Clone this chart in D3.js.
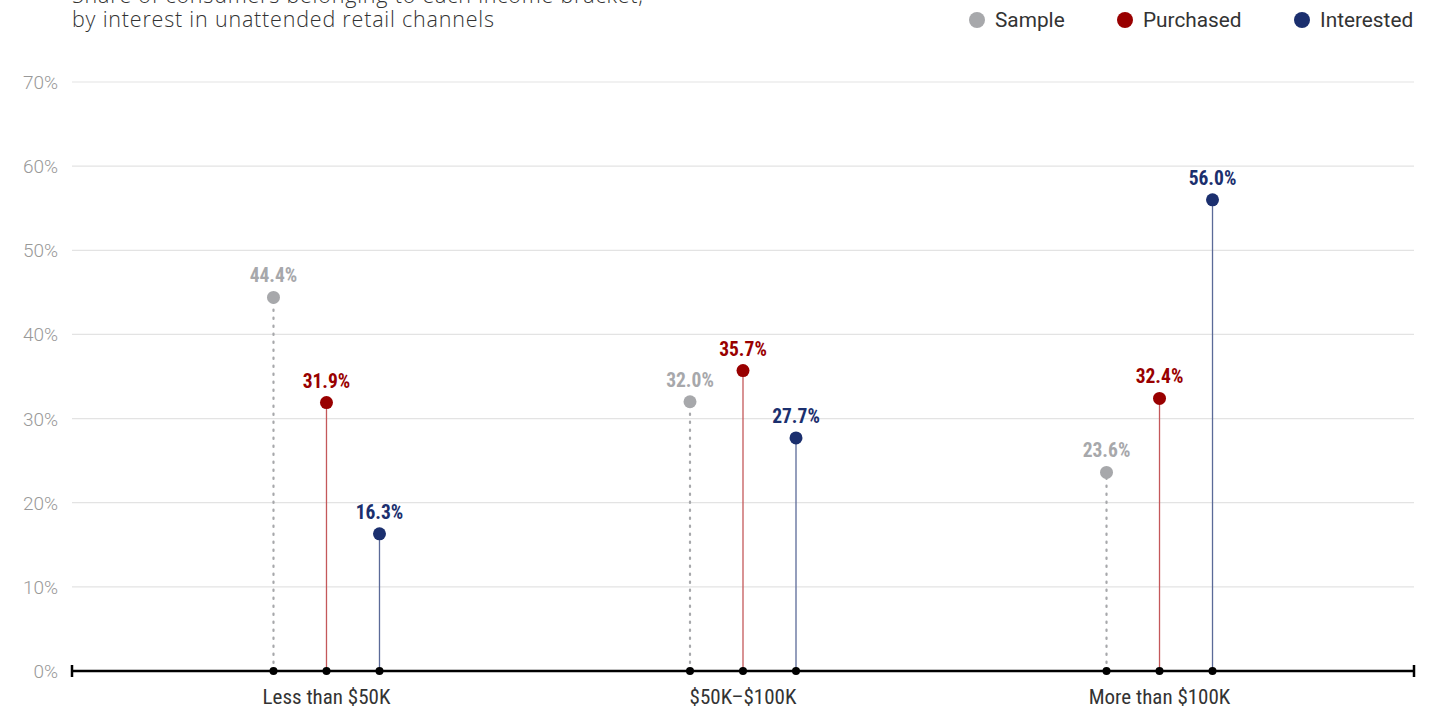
<!DOCTYPE html>
<html><head><meta charset="utf-8">
<script src="https://cdn.jsdelivr.net/npm/d3@7"></script>
<style>
html,body{margin:0;padding:0;background:#fff;}
svg{display:block;}
</style></head>
<body>
<svg id="chart" width="1444" height="710"></svg>
<script>
const titleLines = ["Share of consumers belonging to each income bracket,", "by interest in unattended retail channels"];
const categories = ["Less than $50K", "$50K\u2013$100K", "More than $100K"];
const seriesNames = ["Sample", "Purchased", "Interested"];
const sampleValues = [44.4, 32.0, 23.6];
const purchasedValues = [31.9, 35.7, 32.4];
const interestedValues = [16.3, 27.7, 56.0];
const yTicks = [0, 10, 20, 30, 40, 50, 60, 70];

const colors = {Sample: "#a7a8ab", Purchased: "#990000", Interested: "#1b2f6e"};
const stemColors = {Sample: "#a7a8ab", Purchased: "#c4585a", Interested: "#5b6a98"};
const seriesData = {Sample: sampleValues, Purchased: purchasedValues, Interested: interestedValues};

const svg = d3.select("#chart");
const mLeft = 72, mRight = 1414, mTop = 82, mBottom = 671;

const y = d3.scaleLinear().domain([0, 70]).range([mBottom, mTop]);
const x = d3.scalePoint().domain(categories).range([mLeft, mRight]).padding(0.611);
const offset = d3.scalePoint().domain(seriesNames).range([-53, 53]);

// title
svg.append("g").selectAll("text").data(titleLines).join("text")
  .attr("x", 72).attr("y", (d, i) => 3 + i * 24)
  .attr("font-family", "'Open Sans', Lato, sans-serif").attr("font-weight", 300)
  .attr("font-size", 21.5).attr("letter-spacing", 0.8).attr("fill", "#333").text(d => d);

// legend
const legendX = [977, 1125, 1302];
const lg = svg.append("g").selectAll("g").data(seriesNames).join("g")
  .attr("transform", (d, i) => `translate(${legendX[i]},20)`);
lg.append("circle").attr("r", 8).attr("fill", d => colors[d]);
lg.append("text").attr("x", 18).attr("y", 7).attr("font-family", "Roboto, sans-serif")
  .attr("font-size", 20.8).attr("fill", "#333").text(d => d);

// grid
svg.append("g").selectAll("line").data(yTicks.filter(t => t > 0)).join("line")
  .attr("x1", mLeft).attr("x2", mRight).attr("y1", d => y(d)).attr("y2", d => y(d))
  .attr("stroke", "#e3e3e3").attr("stroke-width", 1.2);

// y labels
svg.append("g").selectAll("text").data(yTicks).join("text")
  .attr("x", 58).attr("y", d => y(d) + 7).attr("text-anchor", "end")
  .attr("font-family", "Roboto, sans-serif").attr("font-weight", 300)
  .attr("font-size", 19).attr("fill", "#999").text(d => d + "%");

// axis
svg.append("line").attr("x1", mLeft).attr("x2", mRight).attr("y1", mBottom).attr("y2", mBottom)
  .attr("stroke", "#000").attr("stroke-width", 2.5);
svg.append("g").selectAll("line").data([mLeft, mRight]).join("line")
  .attr("x1", d => d).attr("x2", d => d).attr("y1", mBottom - 6).attr("y2", mBottom + 6)
  .attr("stroke", "#000").attr("stroke-width", 2.5);

// x labels
svg.append("g").selectAll("text").data(categories).join("text")
  .attr("x", d => x(d)).attr("y", 704).attr("text-anchor", "middle")
  .attr("font-family", "'Roboto Condensed', 'Liberation Sans Narrow', Roboto, sans-serif")
  .attr("font-size", 21).attr("fill", "#333")
  .text(d => d);

// lollipops
const points = [];
seriesNames.forEach(s => categories.forEach((c, i) => points.push({s, c, v: seriesData[s][i]})));
const px = d => x(d.c) + offset(d.s);

const g = svg.append("g");
g.selectAll("line.stem").data(points).join("line").attr("class", "stem")
  .attr("x1", px).attr("x2", px).attr("y1", mBottom).attr("y2", d => y(d.v))
  .attr("stroke", d => stemColors[d.s])
  .attr("stroke-width", d => d.s === "Sample" ? 2.2 : 1.3)
  .attr("stroke-dasharray", d => d.s === "Sample" ? "1.5,6.5" : null)
  .attr("stroke-linecap", "round");
g.selectAll("circle.base").data(points).join("circle").attr("class", "base")
  .attr("cx", px).attr("cy", mBottom).attr("r", 4).attr("fill", "#000");
g.selectAll("circle.pt").data(points).join("circle").attr("class", "pt")
  .attr("cx", px).attr("cy", d => y(d.v)).attr("r", 6.5).attr("fill", d => colors[d.s]);
g.selectAll("text.val").data(points).join("text").attr("class", "val")
  .attr("x", px).attr("y", d => y(d.v) - 15).attr("text-anchor", "middle")
  .attr("font-family", "'Roboto Condensed', 'Liberation Sans Narrow', Roboto, sans-serif")
  .attr("font-weight", 700).attr("font-size", 19.5).attr("fill", d => colors[d.s])
  .text(d => d.v.toFixed(1) + "%");
</script>
</body></html>
